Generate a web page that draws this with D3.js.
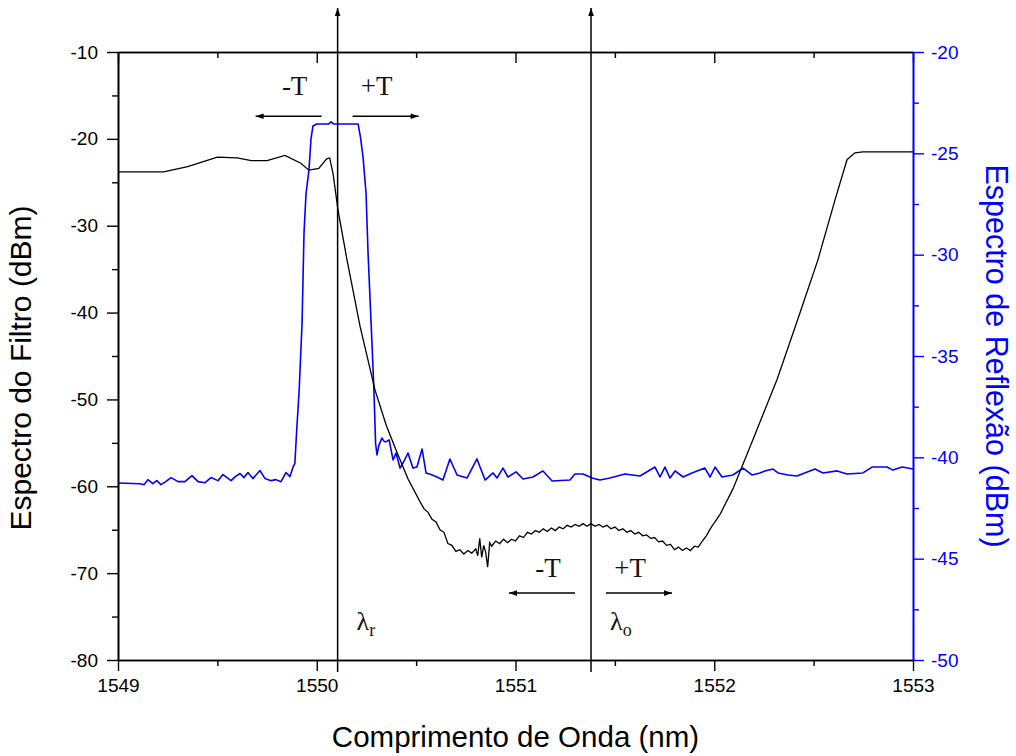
<!DOCTYPE html>
<html>
<head>
<meta charset="utf-8">
<script src="https://cdn.jsdelivr.net/npm/d3@7/dist/d3.min.js"></script>
<style>
  body { margin: 0; background: #fff; }
  svg { display: block; }
  .tick text { font-family: "Liberation Sans", Arial, sans-serif; }
</style>
</head>
<body>
<svg id="chart" width="1016" height="756"></svg>
<script>
// filter spectrum (left axis, black)
const filtroNm = [1549.00, 1549.23, 1549.35, 1549.50, 1549.60, 1549.67, 1549.75, 1549.84, 1549.92, 1549.96,
    1550.01, 1550.05, 1550.065, 1550.082, 1550.107, 1550.152, 1550.218, 1550.293, 1550.35, 1550.404,
    1550.46, 1550.52, 1550.54, 1550.56, 1550.58, 1550.60, 1550.62, 1550.64, 1550.66, 1550.68,
    1550.70, 1550.72, 1550.74, 1550.76, 1550.78, 1550.80, 1550.81, 1550.82, 1550.83, 1550.84,
    1550.85, 1550.86, 1550.87, 1550.88, 1550.90, 1550.92, 1550.94, 1550.96, 1550.98, 1551.00,
    1551.02, 1551.04, 1551.06, 1551.08, 1551.10, 1551.12, 1551.14, 1551.16, 1551.18, 1551.20,
    1551.22, 1551.24, 1551.26, 1551.28, 1551.30, 1551.32, 1551.34, 1551.36, 1551.38, 1551.40,
    1551.42, 1551.44, 1551.46, 1551.48, 1551.50, 1551.52, 1551.54, 1551.56, 1551.58, 1551.60,
    1551.62, 1551.64, 1551.66, 1551.68, 1551.70, 1551.72, 1551.74, 1551.76, 1551.78, 1551.80,
    1551.82, 1551.84, 1551.86, 1551.88, 1551.90, 1551.92, 1551.94, 1551.96, 1551.98, 1552.00,
    1552.03, 1552.094, 1552.195, 1552.316, 1552.42, 1552.522, 1552.608, 1552.668, 1552.708, 1552.748,
    1553.00];
const filtroDbm = [-23.8, -23.8, -23.2, -22.1, -22.2, -22.5, -22.5, -21.9, -22.8, -23.6,
    -23.4, -22.3, -22.2, -24.0, -28.2, -33.9, -41.6, -48.9, -53.0, -56.1,
    -59.2, -61.8, -62.6, -63.0, -63.8, -64.1, -65.0, -65.3, -66.6, -66.8,
    -67.5, -67.3, -67.8, -67.4, -67.7, -67.2, -68.0, -66.0, -68.2, -66.8,
    -67.6, -69.3, -66.5, -66.9, -66.3, -66.6, -66.1, -66.5, -66.1, -66.3,
    -65.7, -65.9, -65.3, -65.5, -65.1, -65.3, -64.9, -65.2, -64.8, -65.1,
    -64.7, -64.9, -64.5, -64.7, -64.4, -64.6, -64.3, -64.6, -64.3, -64.6,
    -64.4, -64.7, -64.5, -64.9, -64.7, -65.1, -64.9, -65.3, -65.1, -65.5,
    -65.3, -65.7, -65.6, -66.0, -65.9, -66.4, -66.3, -66.8, -66.7, -67.3,
    -67.0, -67.4, -67.1, -67.4, -66.9, -67.0, -66.3, -65.7, -64.9, -64.2,
    -63.2, -60.3, -54.6, -47.7, -40.8, -33.9, -27.0, -22.4, -21.6, -21.5,
    -21.5];

// reflection spectrum (right axis, blue)
const reflexaoNm = [1549.000, 1549.111, 1549.131, 1549.151, 1549.175, 1549.195, 1549.216, 1549.240, 1549.267, 1549.302,
    1549.337, 1549.372, 1549.403, 1549.438, 1549.468, 1549.503, 1549.528, 1549.569, 1549.590, 1549.614,
    1549.634, 1549.654, 1549.679, 1549.714, 1549.740, 1549.770, 1549.795, 1549.820, 1549.845, 1549.865,
    1549.880, 1549.890, 1549.900, 1549.911, 1549.926, 1549.936, 1549.946, 1549.961, 1549.971, 1549.981,
    1550.000, 1550.060, 1550.072, 1550.085, 1550.208, 1550.220, 1550.233, 1550.248, 1550.258, 1550.278,
    1550.288, 1550.296, 1550.303, 1550.313, 1550.328, 1550.338, 1550.348, 1550.364, 1550.384, 1550.399,
    1550.419, 1550.434, 1550.459, 1550.484, 1550.504, 1550.530, 1550.550, 1550.575, 1550.605, 1550.635,
    1550.670, 1550.706, 1550.756, 1550.806, 1550.847, 1550.887, 1550.907, 1550.937, 1550.962, 1551.003,
    1551.038, 1551.088, 1551.138, 1551.184, 1551.274, 1551.299, 1551.340, 1551.385, 1551.425, 1551.475,
    1551.551, 1551.626, 1551.702, 1551.727, 1551.752, 1551.777, 1551.803, 1551.843, 1551.888, 1551.953,
    1551.979, 1552.004, 1552.039, 1552.094, 1552.145, 1552.190, 1552.230, 1552.255, 1552.296, 1552.321,
    1552.371, 1552.416, 1552.507, 1552.547, 1552.618, 1552.668, 1552.748, 1552.794, 1552.869, 1552.899,
    1552.945, 1553.000];
const reflexaoDbm = [-41.27, -41.30, -41.35, -41.10, -41.30, -41.15, -41.35, -41.20, -41.00, -41.20,
    -41.20, -40.90, -41.20, -41.25, -41.00, -41.15, -40.85, -41.15, -40.95, -40.80,
    -41.00, -40.75, -41.05, -40.65, -41.05, -41.15, -41.10, -41.20, -40.75, -40.95,
    -40.50, -40.30, -38.50, -36.80, -33.40, -28.90, -27.00, -25.80, -24.30, -23.65,
    -23.55, -23.55, -23.45, -23.55, -23.55, -24.20, -25.20, -26.96, -29.90, -34.40,
    -36.80, -39.30, -39.88, -39.40, -39.05, -39.20, -39.24, -39.14, -40.13, -39.79,
    -40.53, -40.28, -39.79, -40.53, -40.48, -39.59, -40.77, -40.85, -40.97, -41.12,
    -40.08, -40.87, -41.02, -40.08, -41.12, -40.77, -41.02, -40.53, -40.97, -40.72,
    -41.07, -40.97, -40.67, -41.17, -41.12, -40.82, -40.82, -41.02, -41.12, -41.02,
    -40.82, -40.92, -40.48, -40.97, -40.48, -41.02, -40.67, -40.97, -40.77, -40.53,
    -40.97, -40.48, -40.97, -40.87, -40.53, -40.87, -40.77, -40.67, -40.58, -40.77,
    -40.87, -40.92, -40.58, -40.77, -40.67, -40.82, -40.77, -40.48, -40.48, -40.63,
    -40.48, -40.58];

const xTicks = [1549, 1550, 1551, 1552, 1553];
const xMinorTicks = [1549.5, 1550.5, 1551.5, 1552.5];
const leftTicks = [-80, -70, -60, -50, -40, -30, -20, -10];
const leftMinorTicks = [-75, -65, -55, -45, -35, -25, -15];
const rightTicks = [-50, -45, -40, -35, -30, -25, -20];
const rightMinorTicks = [-47.5, -42.5, -37.5, -32.5, -27.5, -22.5];

const lambdaR = 1550.105;
const lambdaO = 1551.38;

const svg = d3.select('#chart');
const plotLeft = 118, plotRight = 913, plotTop = 52, plotBottom = 660;
const blue = '#0000ff';
const sans = '"Liberation Sans", Arial, sans-serif';
const serif = '"Liberation Serif", "Times New Roman", serif';
const plain = d => String(d); // keep the plain hyphen like the original

const x = d3.scaleLinear().domain([1549, 1553]).range([plotLeft, plotRight]);
const yL = d3.scaleLinear().domain([-80, -10]).range([plotBottom, plotTop]);
const yR = d3.scaleLinear().domain([-50, -20]).range([plotBottom, plotTop]);

// arrow heads
const defs = svg.append('defs');
defs.append('marker')
    .attr('id', 'head')
    .attr('viewBox', '0 0 10 10')
    .attr('refX', 10).attr('refY', 5)
    .attr('markerUnits', 'userSpaceOnUse')
    .attr('markerWidth', 15).attr('markerHeight', 8)
    .attr('orient', 'auto')
    .append('path')
    .attr('d', 'M0,1.5 L10,5 L0,8.5 Z')
    .attr('fill', '#000');

// series
const line = (yScale) => d3.line().x(d => x(d[0])).y(d => yScale(d[1]));

svg.append('path')
    .datum(reflexaoNm.map((n, i) => [n, reflexaoDbm[i]]))
    .attr('fill', 'none')
    .attr('stroke', blue)
    .attr('stroke-width', 1.6)
    .attr('stroke-linejoin', 'round')
    .attr('d', line(yR));

svg.append('path')
    .datum(filtroNm.map((n, i) => [n, filtroDbm[i]]))
    .attr('fill', 'none')
    .attr('stroke', '#000')
    .attr('stroke-width', 1.3)
    .attr('d', line(yL));

// axes
const styleAxis = (g, color) => {
    g.selectAll('.domain').attr('stroke', color).attr('stroke-width', 1.6);
    g.selectAll('.tick line').attr('stroke', color).attr('stroke-width', 1.4);
    g.selectAll('.tick text').attr('fill', color).style('font-size', '19px');
};

svg.append('g')
    .attr('transform', `translate(0,${plotBottom})`)
    .call(d3.axisBottom(x).tickValues(xTicks).tickFormat(plain).tickSize(11).tickPadding(8).tickSizeOuter(0))
    .call(g => styleAxis(g, '#000'));
svg.append('g')
    .attr('transform', `translate(0,${plotBottom})`)
    .call(d3.axisBottom(x).tickValues(xMinorTicks).tickFormat('').tickSize(6).tickSizeOuter(0))
    .call(g => styleAxis(g, '#000'));

svg.append('g')
    .attr('transform', `translate(0,${plotTop})`)
    .call(d3.axisTop(x).tickValues(xTicks).tickFormat('').tickSize(-11).tickSizeOuter(0))
    .call(g => styleAxis(g, '#000'));
svg.append('g')
    .attr('transform', `translate(0,${plotTop})`)
    .call(d3.axisTop(x).tickValues(xMinorTicks).tickFormat('').tickSize(-6).tickSizeOuter(0))
    .call(g => styleAxis(g, '#000'));

svg.append('g')
    .attr('transform', `translate(${plotLeft},0)`)
    .call(d3.axisLeft(yL).tickValues(leftTicks).tickFormat(plain).tickSize(11).tickPadding(9).tickSizeOuter(0))
    .call(g => styleAxis(g, '#000'));
svg.append('g')
    .attr('transform', `translate(${plotLeft},0)`)
    .call(d3.axisLeft(yL).tickValues(leftMinorTicks).tickFormat('').tickSize(6).tickSizeOuter(0))
    .call(g => styleAxis(g, '#000'));

svg.append('g')
    .attr('transform', `translate(${plotRight},0)`)
    .call(d3.axisRight(yR).tickValues(rightTicks).tickFormat(plain).tickSize(11).tickPadding(7).tickSizeOuter(0))
    .call(g => styleAxis(g, blue));
svg.append('g')
    .attr('transform', `translate(${plotRight},0)`)
    .call(d3.axisRight(yR).tickValues(rightMinorTicks).tickFormat('').tickSize(6).tickSizeOuter(0))
    .call(g => styleAxis(g, blue));

// axis titles
svg.append('text')
    .attr('x', x(1551)).attr('y', 747)
    .attr('text-anchor', 'middle')
    .style('font-family', sans).style('font-size', '29.5px')
    .text('Comprimento de Onda (nm)');

svg.append('text')
    .attr('transform', `translate(31,${(plotTop + plotBottom) / 2 + 12}) rotate(-90)`)
    .attr('text-anchor', 'middle')
    .style('font-family', sans).style('font-size', '30px')
    .text('Espectro do Filtro (dBm)');

svg.append('text')
    .attr('transform', `translate(986,${(plotTop + plotBottom) / 2}) rotate(90)`)
    .attr('text-anchor', 'middle')
    .attr('fill', blue)
    .style('font-family', sans).style('font-size', '30.5px')
    .text('Espectro de Reflexão (dBm)');

// wavelength markers
[lambdaR, lambdaO].forEach(l => {
    svg.append('line')
        .attr('x1', x(l)).attr('x2', x(l))
        .attr('y1', plotBottom + 12).attr('y2', 8)
        .attr('stroke', '#000').attr('stroke-width', 1.5)
        .attr('marker-end', 'url(#head)');
});

// shift arrows and labels
const shifts = [
    {center: lambdaR, level: -17.4, textLevel: -15.0},
    {center: lambdaO, level: -72.3, textLevel: -70.5}
];
shifts.forEach(s => {
    const cx = x(s.center), ay = yL(s.level), ty = yL(s.textLevel);
    svg.append('line')
        .attr('x1', cx - 16).attr('x2', cx - 82)
        .attr('y1', ay).attr('y2', ay)
        .attr('stroke', '#000').attr('stroke-width', 1.5)
        .attr('marker-end', 'url(#head)');
    svg.append('line')
        .attr('x1', cx + 15).attr('x2', cx + 81)
        .attr('y1', ay).attr('y2', ay)
        .attr('stroke', '#000').attr('stroke-width', 1.5)
        .attr('marker-end', 'url(#head)');
    svg.append('text')
        .attr('x', cx - 43).attr('y', ty)
        .attr('text-anchor', 'middle')
        .attr('fill', '#1a1010')
        .style('font-family', serif).style('font-size', '27px')
        .text('-T');
    svg.append('text')
        .attr('x', cx + 39).attr('y', ty)
        .attr('text-anchor', 'middle')
        .attr('fill', '#1a1010')
        .style('font-family', serif).style('font-size', '27px')
        .text('+T');
});

const lambdaLabels = [
    {at: lambdaR, sub: 'r'},
    {at: lambdaO, sub: 'o'}
];
lambdaLabels.forEach(l => {
    const t = svg.append('text')
        .attr('x', x(l.at) + 19).attr('y', yL(-76.6))
        .attr('fill', '#1a1010')
        .style('font-family', serif).style('font-size', '26px');
    t.append('tspan').text('λ');
    t.append('tspan').attr('dy', 6).style('font-size', '18px').text(l.sub);
});
</script>
</body>
</html>
